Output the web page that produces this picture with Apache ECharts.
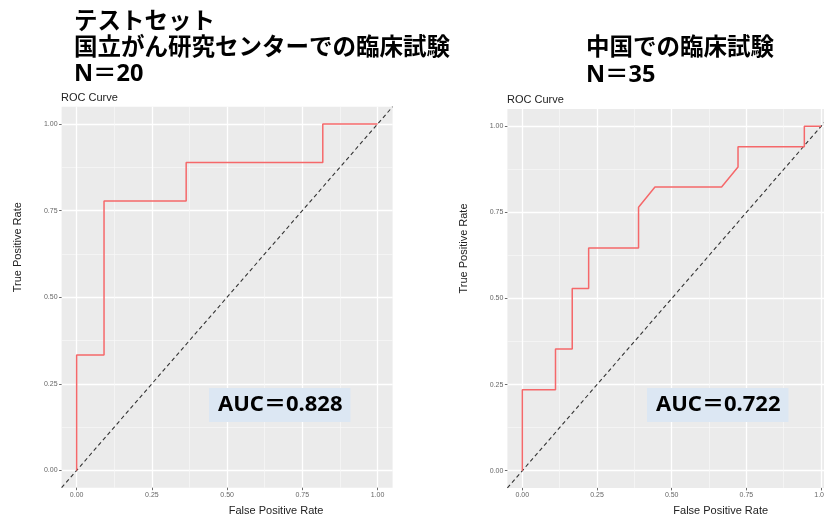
<!DOCTYPE html>
<html>
<head>
<meta charset="utf-8">
<script src="https://cdn.jsdelivr.net/npm/echarts@6/dist/echarts.min.js"></script>
<style>
  html, body { margin: 0; padding: 0; background: #fff; }
  #main { width: 824px; height: 517px; }
</style>
</head>
<body>
<div id="main"></div>
<script>
// left: test set (NCC trial), N=20
var leftFpr = [0, 0, 0.091, 0.091, 0.364, 0.364, 0.818, 0.818, 1];
var leftTpr = [0, 0.333, 0.333, 0.778, 0.778, 0.889, 0.889, 1, 1];
// right: trial in China, N=35
var rightFpr = [0, 0, 0.111, 0.111, 0.167, 0.167, 0.222, 0.222, 0.389, 0.389, 0.444, 0.667, 0.722, 0.722, 0.944, 0.944, 1];
var rightTpr = [0, 0.235, 0.235, 0.353, 0.353, 0.529, 0.529, 0.647, 0.647, 0.765, 0.824, 0.824, 0.882, 0.941, 0.941, 1, 1];
// chance line y = x across the panel
var diagVals = [-0.05, 1.05];
var majorTicks = [0, 0.25, 0.5, 0.75, 1];
var minorTicks = [0.125, 0.375, 0.625, 0.875];
var aucLabels = ['AUC＝0.828', 'AUC＝0.722'];
var panelTitles = ['テストセット\n国立がん研究センターでの臨床試験\nN＝20', '中国での臨床試験\nN＝35'];

var myChart = echarts.init(document.getElementById('main'));

var jpFont = '"Noto Sans", "Noto Sans CJK JP", sans-serif';

var grids = [
    { left: 61.6, top: 106.7, width: 331, height: 381 },
    { left: 507.4, top: 109.1, width: 328.6, height: 378.8 }
];

function zip(a, b) {
    return a.map(function (v, i) { return [v, b[i]]; });
}

var xAxes = [], yAxes = [], series = [];
grids.forEach(function (g, i) {
    g.show = true;
    g.backgroundColor = '#EBEBEB';
    g.borderWidth = 0;
    g.outerBoundsMode = 'none';
    g.containLabel = false;
    // major axis
    xAxes.push({
        gridIndex: i, type: 'value', min: -0.05, max: 1.05,
        name: 'False Positive Rate', nameLocation: 'middle', nameGap: 18,
        nameTextStyle: { fontSize: 11, color: '#222', fontFamily: 'Liberation Sans', padding: [0, 0, 0, 98] },
        axisLine: { show: false, onZero: false },
        axisTick: { show: true, length: 2.5, customValues: majorTicks, lineStyle: { color: '#444', width: 0.8 } },
        axisLabel: { customValues: majorTicks, fontSize: 7, color: '#666', margin: 4, fontFamily: 'Liberation Sans',
            formatter: function (v) { return v.toFixed(2); } },
        splitLine: { show: true, lineStyle: { color: '#fff', width: 1.3 } }
    });
    // minor grid
    xAxes.push({
        gridIndex: i, type: 'value', min: -0.05, max: 1.05,
        axisLine: { show: false, onZero: false },
        axisTick: { show: false, customValues: minorTicks },
        axisLabel: { show: false, customValues: minorTicks },
        splitLine: { show: true, lineStyle: { color: '#F8F8F8', width: 0.7 } }
    });
    yAxes.push({
        gridIndex: i, type: 'value', min: -0.05, max: 1.05,
        name: 'True Positive Rate', nameLocation: 'middle', nameGap: 38,
        nameTextStyle: { fontSize: 11, color: '#222', fontFamily: 'Liberation Sans', padding: [0, 0, 0, 100] },
        axisLine: { show: false, onZero: false },
        axisTick: { show: true, length: 2.5, customValues: majorTicks, lineStyle: { color: '#444', width: 0.8 } },
        axisLabel: { customValues: majorTicks, fontSize: 7, color: '#666', margin: 4, fontFamily: 'Liberation Sans',
            formatter: function (v) { return v.toFixed(2); } },
        splitLine: { show: true, lineStyle: { color: '#fff', width: 1.3 } }
    });
    yAxes.push({
        gridIndex: i, type: 'value', min: -0.05, max: 1.05,
        axisLine: { show: false, onZero: false },
        axisTick: { show: false, customValues: minorTicks },
        axisLabel: { show: false, customValues: minorTicks },
        splitLine: { show: true, lineStyle: { color: '#F8F8F8', width: 0.7 } }
    });
    series.push({
        type: 'line', xAxisIndex: 2 * i, yAxisIndex: 2 * i,
        data: zip(diagVals, diagVals), symbol: 'none', silent: true,
        lineStyle: { color: '#333', width: 1.1, type: [4, 3] }
    });
    series.push({
        type: 'line', xAxisIndex: 2 * i, yAxisIndex: 2 * i,
        data: i === 0 ? zip(leftFpr, leftTpr) : zip(rightFpr, rightTpr),
        symbol: 'none',
        lineStyle: { color: '#F5686A', width: 1.5 }
    });
});

var option = {
    animation: false,
    title: [
        { text: panelTitles[0], left: 74, top: 9, padding: 0,
          textStyle: { fontFamily: jpFont, fontSize: 23.5, fontWeight: 'bold', lineHeight: 26, color: '#000' } },
        { text: panelTitles[1], left: 586, top: 35, padding: 0,
          textStyle: { fontFamily: jpFont, fontSize: 23.5, fontWeight: 'bold', lineHeight: 27, color: '#000' } },
        { text: 'ROC Curve', left: 61, top: 92, padding: 0,
          textStyle: { fontFamily: 'Liberation Sans', fontSize: 11, fontWeight: 'normal', color: '#222' } },
        { text: 'ROC Curve', left: 507, top: 94, padding: 0,
          textStyle: { fontFamily: 'Liberation Sans', fontSize: 11, fontWeight: 'normal', color: '#222' } },
        { text: aucLabels[0], left: 209, top: 388, backgroundColor: '#DCE7F3', padding: [4, 8, 4, 9],
          textStyle: { fontFamily: jpFont, fontSize: 22, fontWeight: 'bold', color: '#000', lineHeight: 26 } },
        { text: aucLabels[1], left: 647, top: 388, backgroundColor: '#DCE7F3', padding: [4, 8, 4, 9],
          textStyle: { fontFamily: jpFont, fontSize: 22, fontWeight: 'bold', color: '#000', lineHeight: 26 } }
    ],
    grid: grids,
    xAxis: xAxes,
    yAxis: yAxes,
    series: series
};

myChart.setOption(option);
</script>
</body>
</html>
